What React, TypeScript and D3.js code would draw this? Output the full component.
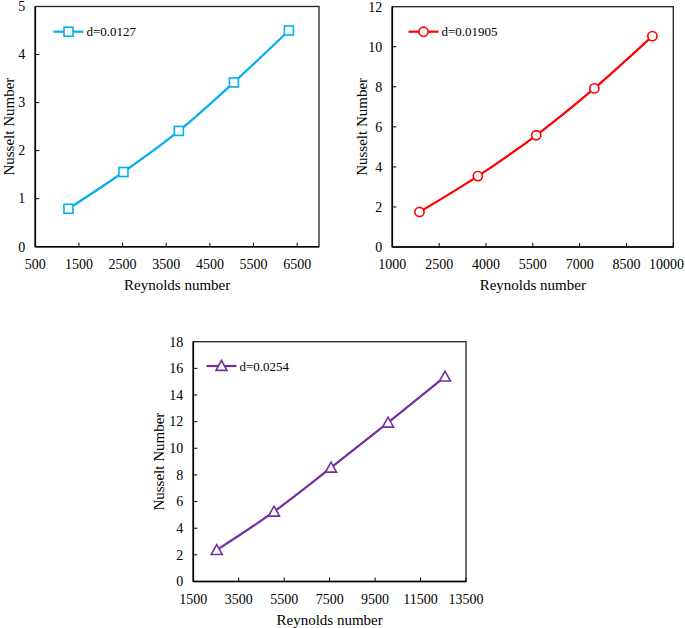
import React from "react";
import * as d3 from "d3";

// ---- Data ----
const re1 = [1260, 2520, 3790, 5050, 6310];
const nu1 = [0.79, 1.555, 2.41, 3.42, 4.5];
const re2 = [1870, 3740, 5610, 7470, 9330];
const nu2 = [1.75, 3.54, 5.58, 7.92, 10.53];
const re3 = [2530, 5050, 7560, 10070, 12575];
const nu3 = [2.36, 5.24, 8.54, 11.92, 15.38];

const xTicks1 = [500, 1500, 2500, 3500, 4500, 5500, 6500];
const yTicks1 = [0, 1, 2, 3, 4, 5];
const xTicks2 = [1000, 2500, 4000, 5500, 7000, 8500, 10000];
const yTicks2 = [0, 2, 4, 6, 8, 10, 12];
const xTicks3 = [1500, 3500, 5500, 7500, 9500, 11500, 13500];
const yTicks3 = [0, 2, 4, 6, 8, 10, 12, 14, 16, 18];

const labels = ["d=0.0127", "d=0.01905", "d=0.0254"];

const FONT = "'Liberation Serif', 'Times New Roman', serif";
const TICK_FS = 14;

type PanelProps = {
  xs: number[];
  ys: number[];
  xDomain: [number, number];
  yDomain: [number, number];
  xTicks: number[];
  yTicks: number[];
  box: { l: number; r: number; t: number; b: number };
  color: string;
  marker: "square" | "circle" | "triangle";
  label: string;
  legend: { x: number; y: number };
  yTitleX: number;
};

function Marker({ type, x, y, color }: { type: string; x: number; y: number; color: string }) {
  if (type === "square") {
    return <rect x={x - 4.5} y={y - 4.5} width={9} height={9} fill="white" stroke={color} strokeWidth={1.6} />;
  }
  if (type === "circle") {
    return <circle cx={x} cy={y} r={4.6} fill="white" stroke={color} strokeWidth={1.6} />;
  }
  const s = 5.5;
  const pts = `${x},${y - s} ${x - s},${y + s * 0.8} ${x + s},${y + s * 0.8}`;
  return <polygon points={pts} fill="white" stroke={color} strokeWidth={1.6} />;
}

function Panel(p: PanelProps) {
  const { box } = p;
  const x = d3.scaleLinear().domain(p.xDomain).range([box.l, box.r]);
  const y = d3.scaleLinear().domain(p.yDomain).range([box.b, box.t]);
  const line = d3
    .line<number>()
    .x((_, i) => x(p.xs[i]))
    .y((d) => y(d))
    .curve(d3.curveCatmullRom.alpha(0.5));
  const data = p.ys;
  return (
    <g>
      <rect x={box.l} y={box.t} width={box.r - box.l} height={box.b - box.t} fill="white" stroke="#222" strokeWidth={1.3} />
      <line x1={box.l} x2={box.r} y1={box.b} y2={box.b} stroke="#000" strokeWidth={1.6} />
      <line x1={box.l} x2={box.l} y1={box.t} y2={box.b} stroke="#000" strokeWidth={1.6} />
      {p.xTicks.map((t) => {
        const half = (String(t).length * 0.5 * TICK_FS) / 2;
        const lx = Math.min(x(t), 684 - half);
        return (
          <g key={"x" + t}>
            {t !== p.xDomain[0] && (
              <line x1={x(t)} x2={x(t)} y1={box.b} y2={box.b - 4} stroke="#000" strokeWidth={1} />
            )}
            <text x={lx} y={box.b + 22} textAnchor="middle" fontSize={TICK_FS} fontFamily={FONT} fill="#000">
              {t}
            </text>
          </g>
        );
      })}
      {p.yTicks.map((t) => (
        <g key={"y" + t}>
          {t !== p.yDomain[0] && t !== p.yDomain[1] && (
            <line x1={box.l} x2={box.l + 4} y1={y(t)} y2={y(t)} stroke="#000" strokeWidth={1} />
          )}
          <text x={box.l - 10} y={y(t) + 4.8} textAnchor="end" fontSize={TICK_FS} fontFamily={FONT} fill="#000">
            {t}
          </text>
        </g>
      ))}
      <text
        x={(box.l + box.r) / 2}
        y={box.b + 43}
        textAnchor="middle"
        fontSize={15}
        fontFamily={FONT}
        fill="#000"
      >
        Reynolds number
      </text>
      <text
        transform={`translate(${p.yTitleX},${(box.t + box.b) / 2}) rotate(-90)`}
        textAnchor="middle"
        dominantBaseline="central"
        fontSize={15}
        fontFamily={FONT}
        fill="#000"
      >
        Nusselt Number
      </text>
      <path d={line(data) || ""} fill="none" stroke={p.color} strokeWidth={2.2} />
      {data.map((d, i) => (
        <Marker key={i} type={p.marker} x={x(p.xs[i])} y={y(d)} color={p.color} />
      ))}
      <line x1={p.legend.x} x2={p.legend.x + 30} y1={p.legend.y} y2={p.legend.y} stroke={p.color} strokeWidth={2.2} />
      <Marker type={p.marker} x={p.legend.x + 15} y={p.legend.y} color={p.color} />
      <text x={p.legend.x + 33} y={p.legend.y + 4.5} fontSize={13} fontFamily={FONT} fill="#000">
        {p.label}
      </text>
    </g>
  );
}

export default function App() {
  return (
    <svg width={685} height={628} style={{ position: "absolute", left: 0, top: 0, background: "white" }}>
      <rect x={0} y={0} width={685} height={628} fill="white" />
      <Panel
        xs={re1}
        ys={nu1}
        xDomain={[500, 7000]}
        yDomain={[0, 5]}
        xTicks={xTicks1}
        yTicks={yTicks1}
        box={{ l: 35.3, r: 319, t: 6.5, b: 246.7 }}
        color="#00B0F0"
        marker="square"
        label={labels[0]}
        legend={{ x: 53.5, y: 31.7 }}
        yTitleX={9}
      />
      <Panel
        xs={re2}
        ys={nu2}
        xDomain={[1000, 10000]}
        yDomain={[0, 12]}
        xTicks={xTicks2}
        yTicks={yTicks2}
        box={{ l: 392.3, r: 673.3, t: 6.7, b: 247 }}
        color="#FF0000"
        marker="circle"
        label={labels[1]}
        legend={{ x: 408.5, y: 31.7 }}
        yTitleX={362}
      />
      <Panel
        xs={re3}
        ys={nu3}
        xDomain={[1500, 13500]}
        yDomain={[0, 18]}
        xTicks={xTicks3}
        yTicks={yTicks3}
        box={{ l: 193.3, r: 466, t: 341.7, b: 581.5 }}
        color="#7030A0"
        marker="triangle"
        label={labels[2]}
        legend={{ x: 206.5, y: 366 }}
        yTitleX={158.5}
      />
    </svg>
  );
}
